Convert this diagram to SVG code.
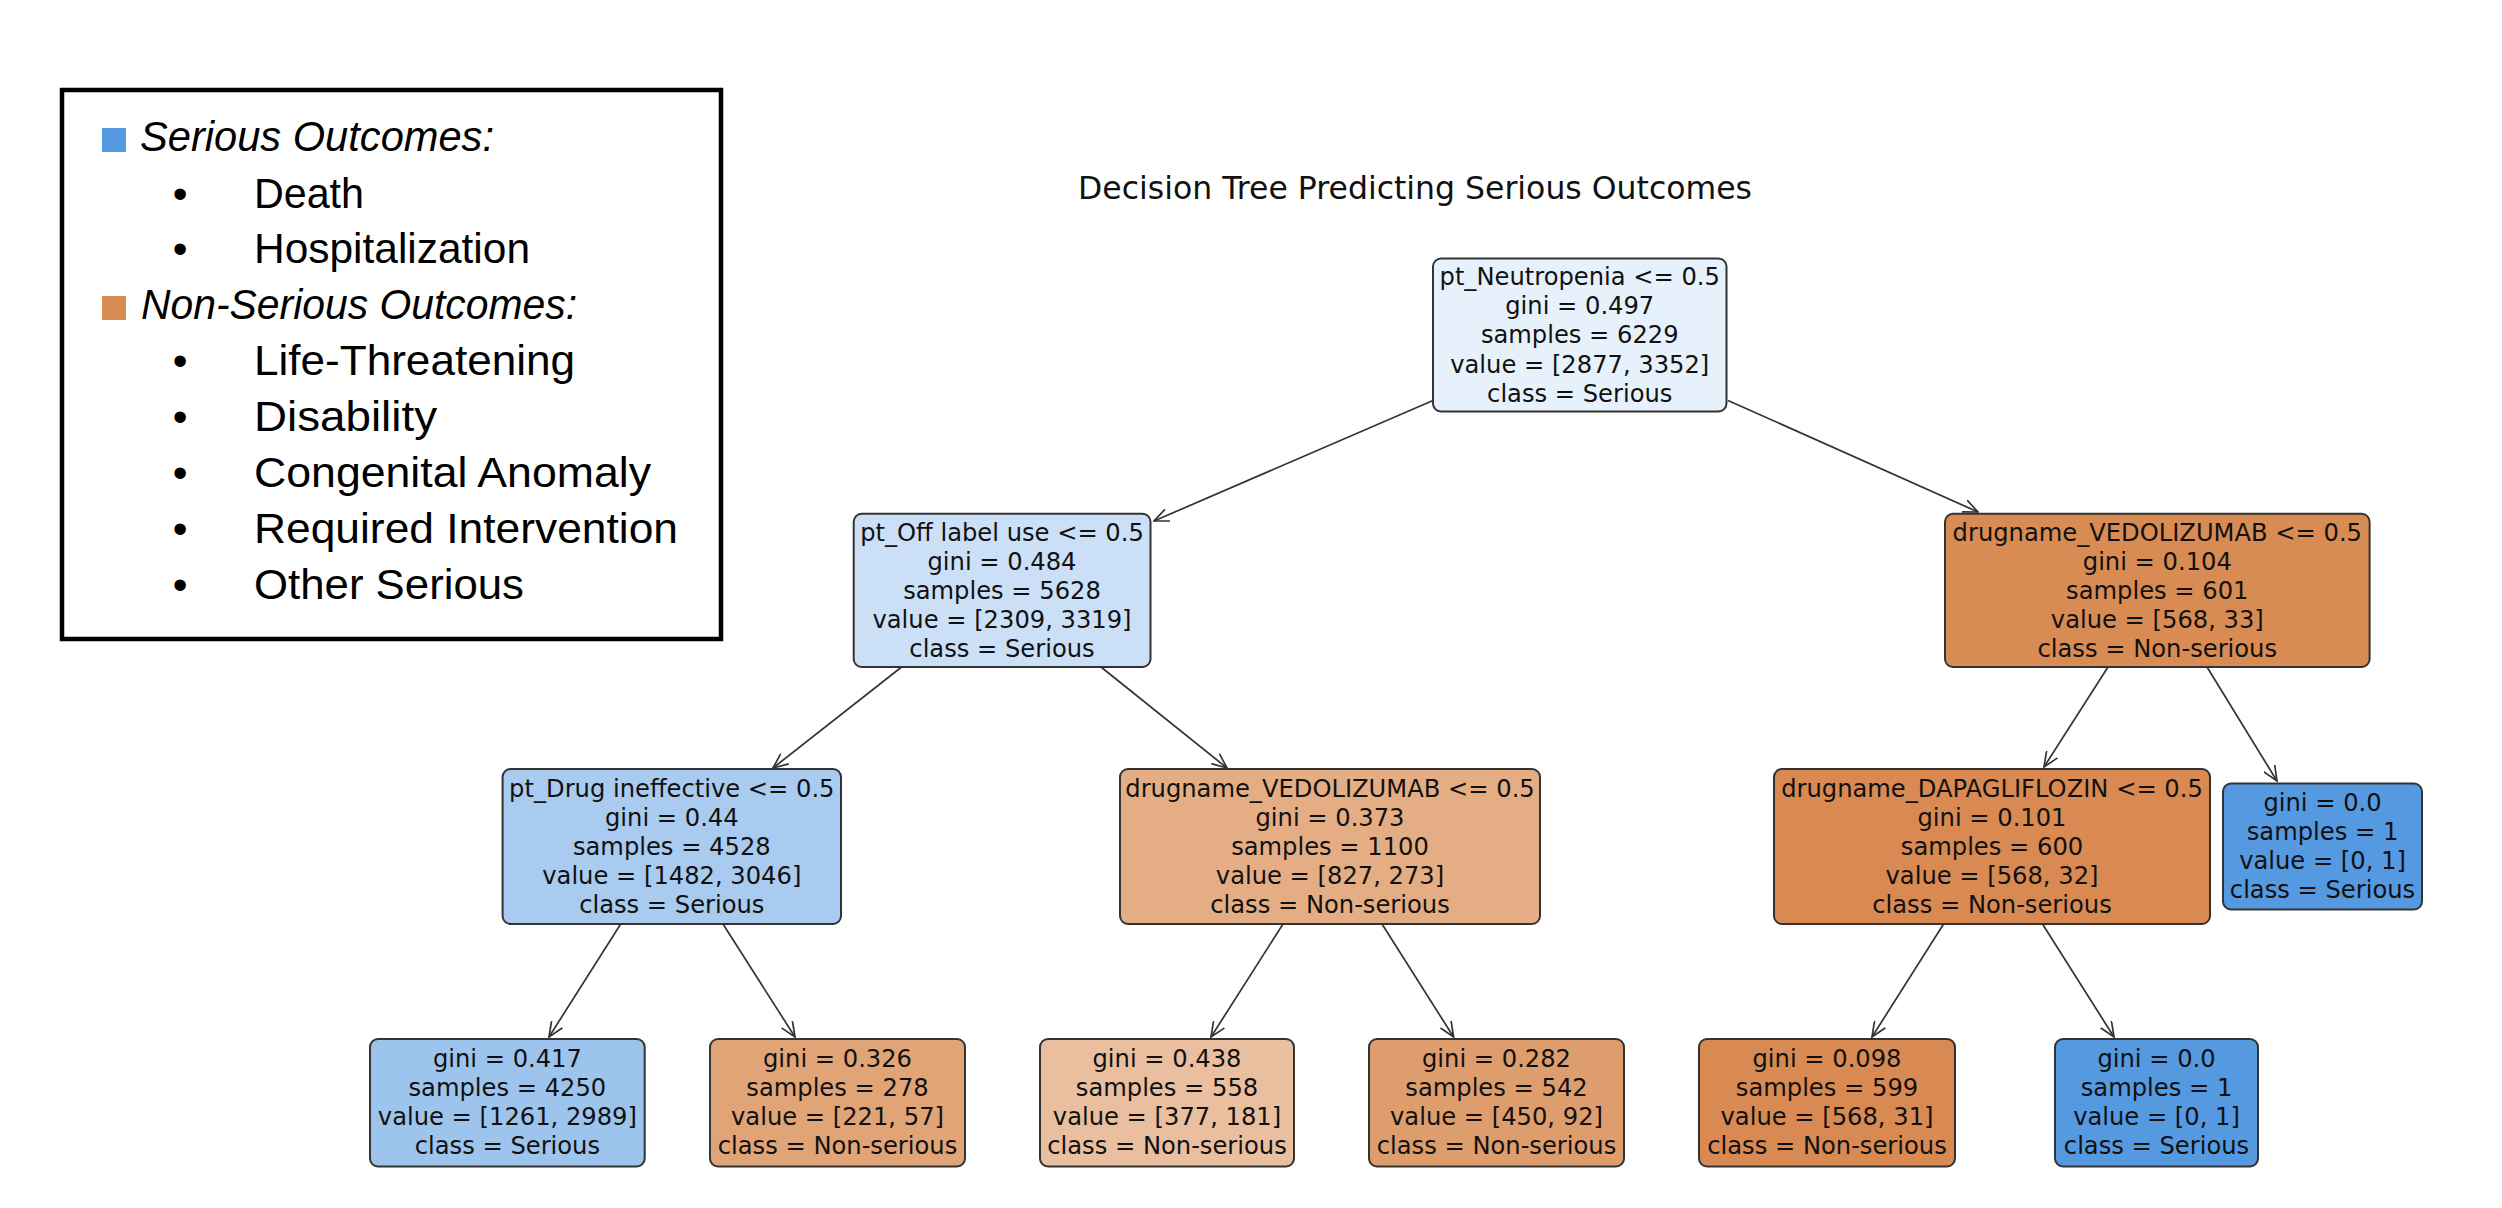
<svg xmlns="http://www.w3.org/2000/svg" width="2502" height="1208" viewBox="0 0 2502 1208">
<style>
.nt{font-family:"DejaVu Sans",sans-serif;font-size:24.2px;fill:#111;text-anchor:middle}
.box{stroke:#333;stroke-width:2}
.lg{font-family:"Liberation Sans",Arial,sans-serif;font-size:43px;fill:#000}
.lh{font-family:"Liberation Sans",Arial,sans-serif;font-size:42px;font-style:italic;fill:#000}
.bl{font-family:"Liberation Sans",Arial,sans-serif;font-size:42px;fill:#000;text-anchor:middle}
.edge{stroke:#333;stroke-width:1.7;fill:none;marker-end:url(#arr)}
</style>
<defs>
<marker id="arr" viewBox="0 0 16 14" refX="15" refY="7" markerWidth="16" markerHeight="14" orient="auto" markerUnits="userSpaceOnUse">
<path d="M0,0.5 L15,7 L0,13.5" fill="none" stroke="#333" stroke-width="1.7"/>
</marker>
</defs>
<rect width="2502" height="1208" fill="#fff"/>

<g id="legend">
<rect x="62" y="90" width="659" height="549" fill="#fff" stroke="#000" stroke-width="4.5"/>
<rect x="102" y="128" width="24" height="24" fill="#5599e0"/>
<text class="lh" x="140" y="151" textLength="354" lengthAdjust="spacingAndGlyphs">Serious Outcomes:</text>
<text class="bl" x="180" y="208">•</text><text class="lg" x="254" y="208" textLength="110" lengthAdjust="spacingAndGlyphs">Death</text>
<text class="bl" x="180" y="263">•</text><text class="lg" x="254" y="263" textLength="276" lengthAdjust="spacingAndGlyphs">Hospitalization</text>
<rect x="102" y="296" width="24" height="24" fill="#d88b53"/>
<text class="lh" x="141" y="319" textLength="436" lengthAdjust="spacingAndGlyphs">Non-Serious Outcomes:</text>
<text class="bl" x="180" y="375">•</text><text class="lg" x="254" y="375" textLength="321" lengthAdjust="spacingAndGlyphs">Life-Threatening</text>
<text class="bl" x="180" y="431">•</text><text class="lg" x="254" y="431" textLength="183" lengthAdjust="spacingAndGlyphs">Disability</text>
<text class="bl" x="180" y="487">•</text><text class="lg" x="254" y="487" textLength="397" lengthAdjust="spacingAndGlyphs">Congenital Anomaly</text>
<text class="bl" x="180" y="543">•</text><text class="lg" x="254" y="543" textLength="424" lengthAdjust="spacingAndGlyphs">Required Intervention</text>
<text class="bl" x="180" y="599">•</text><text class="lg" x="254" y="599" textLength="270" lengthAdjust="spacingAndGlyphs">Other Serious</text>
</g>

<text id="title" x="1415" y="199" style="font-family:'DejaVu Sans',sans-serif;font-size:31.5px;fill:#111;text-anchor:middle">Decision Tree Predicting Serious Outcomes</text>

<g id="connectors">
<path class="edge" d="M1433,400.5 L1154,521"/>
<path class="edge" d="M1728,400.5 L1978,512"/>
<path class="edge" d="M901.6,667 L773,768"/>
<path class="edge" d="M1101,667 L1227,768"/>
<path class="edge" d="M2108,667 L2044,767"/>
<path class="edge" d="M2207,667 L2277,781"/>
<path class="edge" d="M620.7,924 L549,1037"/>
<path class="edge" d="M723,924 L795,1037"/>
<path class="edge" d="M1283,924 L1211,1037"/>
<path class="edge" d="M1382,924 L1453.6,1037"/>
<path class="edge" d="M1943.6,924 L1872,1037"/>
<path class="edge" d="M2042.5,924 L2114,1037"/>
</g>

<g id="n0">
<rect class="box" x="1433" y="258.5" width="293.5" height="153" rx="8" fill="#e7f1fb"/>
<text class="nt" x="1579.75" y="285">pt_Neutropenia &lt;= 0.5</text>
<text class="nt" x="1579.75" y="314">gini = 0.497</text>
<text class="nt" x="1579.75" y="343">samples = 6229</text>
<text class="nt" x="1579.75" y="372.5">value = [2877, 3352]</text>
<text class="nt" x="1579.75" y="401.5">class = Serious</text>
</g>

<g id="n1">
<rect class="box" x="853.7" y="513.8" width="296.8" height="153.2" rx="8" fill="#cbe0f6"/>
<text class="nt" x="1002" y="540.5">pt_Off label use &lt;= 0.5</text>
<text class="nt" x="1002" y="569.5">gini = 0.484</text>
<text class="nt" x="1002" y="598.5">samples = 5628</text>
<text class="nt" x="1002" y="628">value = [2309, 3319]</text>
<text class="nt" x="1002" y="657">class = Serious</text>
</g>

<g id="n2">
<rect class="box" x="1945" y="513.8" width="424.6" height="153.2" rx="8" fill="#d88b53"/>
<text class="nt" x="2157.3" y="540.5">drugname_VEDOLIZUMAB &lt;= 0.5</text>
<text class="nt" x="2157.3" y="569.5">gini = 0.104</text>
<text class="nt" x="2157.3" y="598.5">samples = 601</text>
<text class="nt" x="2157.3" y="628">value = [568, 33]</text>
<text class="nt" x="2157.3" y="657">class = Non-serious</text>
</g>

<g id="n3">
<rect class="box" x="502.6" y="769" width="338.4" height="155" rx="8" fill="#a8cbef"/>
<text class="nt" x="671.8" y="796.5">pt_Drug ineffective &lt;= 0.5</text>
<text class="nt" x="671.8" y="825.5">gini = 0.44</text>
<text class="nt" x="671.8" y="855">samples = 4528</text>
<text class="nt" x="671.8" y="884">value = [1482, 3046]</text>
<text class="nt" x="671.8" y="913">class = Serious</text>
</g>

<g id="n4">
<rect class="box" x="1120" y="769" width="420" height="155" rx="8" fill="#e4ad84"/>
<text class="nt" x="1330" y="796.5">drugname_VEDOLIZUMAB &lt;= 0.5</text>
<text class="nt" x="1330" y="825.5">gini = 0.373</text>
<text class="nt" x="1330" y="855">samples = 1100</text>
<text class="nt" x="1330" y="884">value = [827, 273]</text>
<text class="nt" x="1330" y="913">class = Non-serious</text>
</g>

<g id="n5">
<rect class="box" x="1774" y="769" width="436" height="155" rx="8" fill="#d88a52"/>
<text class="nt" x="1992" y="796.5">drugname_DAPAGLIFLOZIN &lt;= 0.5</text>
<text class="nt" x="1992" y="825.5">gini = 0.101</text>
<text class="nt" x="1992" y="855">samples = 600</text>
<text class="nt" x="1992" y="884">value = [568, 32]</text>
<text class="nt" x="1992" y="913">class = Non-serious</text>
</g>

<g id="n6">
<rect class="box" x="2223" y="783.5" width="199" height="126" rx="8" fill="#5599e0"/>
<text class="nt" x="2322.5" y="811">gini = 0.0</text>
<text class="nt" x="2322.5" y="840">samples = 1</text>
<text class="nt" x="2322.5" y="869">value = [0, 1]</text>
<text class="nt" x="2322.5" y="898">class = Serious</text>
</g>

<g id="n7">
<rect class="box" x="370" y="1039" width="274.7" height="127.5" rx="8" fill="#9dc4ed"/>
<text class="nt" x="507.4" y="1067">gini = 0.417</text>
<text class="nt" x="507.4" y="1096">samples = 4250</text>
<text class="nt" x="507.4" y="1125">value = [1261, 2989]</text>
<text class="nt" x="507.4" y="1154">class = Serious</text>
</g>

<g id="n8">
<rect class="box" x="710" y="1039" width="255" height="127.5" rx="8" fill="#e1a477"/>
<text class="nt" x="837.5" y="1067">gini = 0.326</text>
<text class="nt" x="837.5" y="1096">samples = 278</text>
<text class="nt" x="837.5" y="1125">value = [221, 57]</text>
<text class="nt" x="837.5" y="1154">class = Non-serious</text>
</g>

<g id="n9">
<rect class="box" x="1040" y="1039" width="254" height="127.5" rx="8" fill="#eabfa0"/>
<text class="nt" x="1167" y="1067">gini = 0.438</text>
<text class="nt" x="1167" y="1096">samples = 558</text>
<text class="nt" x="1167" y="1125">value = [377, 181]</text>
<text class="nt" x="1167" y="1154">class = Non-serious</text>
</g>

<g id="n10">
<rect class="box" x="1369" y="1039" width="255" height="127.5" rx="8" fill="#de9d6d"/>
<text class="nt" x="1496.5" y="1067">gini = 0.282</text>
<text class="nt" x="1496.5" y="1096">samples = 542</text>
<text class="nt" x="1496.5" y="1125">value = [450, 92]</text>
<text class="nt" x="1496.5" y="1154">class = Non-serious</text>
</g>

<g id="n11">
<rect class="box" x="1699" y="1039" width="256" height="127.5" rx="8" fill="#d88a52"/>
<text class="nt" x="1827" y="1067">gini = 0.098</text>
<text class="nt" x="1827" y="1096">samples = 599</text>
<text class="nt" x="1827" y="1125">value = [568, 31]</text>
<text class="nt" x="1827" y="1154">class = Non-serious</text>
</g>

<g id="n12">
<rect class="box" x="2055" y="1039" width="203" height="127.5" rx="8" fill="#5599e0"/>
<text class="nt" x="2156.5" y="1067">gini = 0.0</text>
<text class="nt" x="2156.5" y="1096">samples = 1</text>
<text class="nt" x="2156.5" y="1125">value = [0, 1]</text>
<text class="nt" x="2156.5" y="1154">class = Serious</text>
</g>
</svg>
